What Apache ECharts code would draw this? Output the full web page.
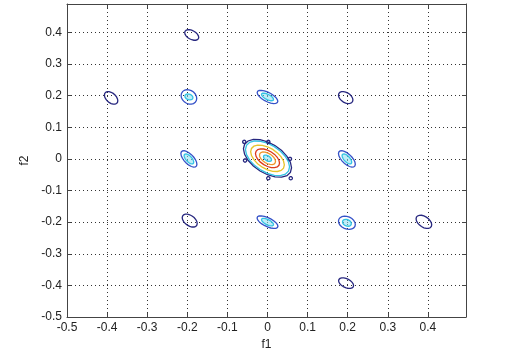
<!DOCTYPE html>
<html>
<head>
<meta charset="utf-8">
<script src="https://cdn.jsdelivr.net/npm/echarts@6/dist/echarts.min.js"></script>
<style>
html,body{margin:0;padding:0;background:#fff;}
#chart{width:514px;height:359px;}
</style>
</head>
<body>
<div id="chart"></div>
<script>
// Axis tick labels
var xTicks = [-0.5, -0.4, -0.3, -0.2, -0.1, 0, 0.1, 0.2, 0.3, 0.4];
var yTicks = [-0.5, -0.4, -0.3, -0.2, -0.1, 0, 0.1, 0.2, 0.3, 0.4];

// Contour rings: centre (f1, f2), half extents in f1 / f2, tilt (correlation), contour level
var ringF1 = [-0.189, -0.390, -0.196, -0.196, -0.196, -0.196, 0.000, 0.000, 0.195, 0.198, 0.198, -0.194, 0.000, 0.000, 0.198, 0.198, 0.390, 0.196,
              0.000, 0.000, 0.000, 0.000, 0.000, 0.000,
              -0.058, 0.002, -0.056, 0.056, 0.002, 0.058];
var ringF2 = [0.392, 0.193, 0.196, 0.196, 0.000, 0.000, 0.196, 0.196, 0.194, 0.000, 0.000, -0.195, -0.200, -0.200, -0.202, -0.202, -0.199, -0.393,
              0.002, 0.002, 0.002, 0.002, 0.002, 0.002,
              0.054, 0.054, -0.005, 0.000, -0.061, -0.061];
var ringHalfF1 = [0.0175, 0.0167, 0.0195, 0.0100, 0.0200, 0.0120, 0.0257, 0.0150, 0.0180, 0.0210, 0.0120, 0.0187, 0.0260, 0.0150, 0.0210, 0.0110, 0.0195, 0.0187,
                  0.0600, 0.0550, 0.0420, 0.0300, 0.0200, 0.0100,
                  0.0040, 0.0040, 0.0040, 0.0040, 0.0040, 0.0040];
var ringHalfF2 = [0.0168, 0.0200, 0.0230, 0.0095, 0.0260, 0.0160, 0.0210, 0.0120, 0.0190, 0.0260, 0.0160, 0.0206, 0.0200, 0.0120, 0.0210, 0.0110, 0.0210, 0.0168,
                  0.0600, 0.0550, 0.0420, 0.0300, 0.0200, 0.0100,
                  0.0050, 0.0050, 0.0050, 0.0050, 0.0050, 0.0050];
var ringTilt = [-0.45, -0.45, -0.2, -0.25, -0.65, -0.65, -0.65, -0.65, -0.4, -0.65, -0.65, -0.45, -0.65, -0.65, -0.25, -0.25, -0.45, -0.45,
                -0.5, -0.5, -0.5, -0.5, -0.5, -0.5,
                0, 0, 0, 0, 0, 0];
var ringLevel = [0, 0, 1, 2, 1, 2, 1, 2, 0, 1, 2, 0, 1, 2, 1, 2, 0, 0,
                 0, 2, 3, 5, 4, 2,
                 0, 0, 0, 0, 0, 0];

var levelColors = ['#27277f', '#3552c8', '#33c3e4', '#e6c42a', '#f0952a', '#dc3a1c'];

var ringData = ringF1.map(function (v, i) {
  return [v, ringF2[i], ringHalfF1[i], ringHalfF2[i], ringTilt[i], ringLevel[i]];
});
// innermost cyan ring of each blob gets a light fill
var innermost = ringData.map(function (d, i) {
  return !ringData.some(function (e, j) {
    return j !== i && Math.abs(e[0] - d[0]) < 1e-6 && Math.abs(e[1] - d[1]) < 1e-6 && e[2] < d[2];
  });
});

var chart = echarts.init(document.getElementById('chart'), null, {renderer: 'canvas'});
var font = 'Liberation Sans, Arial, sans-serif';
var axisCommon = {
  type: 'value', min: -0.5, interval: 0.1,
  axisLine: {show: true, onZero: false, lineStyle: {color: '#444', width: 1}},
  axisTick: {show: true, inside: true, length: 4, lineStyle: {color: '#444'}},
  splitLine: {show: false}
};
var option = {
  animation: false,
  backgroundColor: '#fff',
  grid: {left: 67, top: 4, right: 48, bottom: 42, containLabel: false},
  xAxis: [
    Object.assign({}, axisCommon, {
      max: 0.495, position: 'bottom', name: 'f1', nameLocation: 'middle', nameGap: 16,
      nameTextStyle: {fontFamily: font, fontSize: 12, color: '#222'},
      axisLabel: {show: true, margin: 5, fontFamily: font, fontSize: 12, color: '#222', showMaxLabel: false,
        formatter: function (v) { var k = xTicks.indexOf(Math.round(v * 10) / 10); return k >= 0 ? String(xTicks[k]) : ''; }},
      splitLine: {show: true, lineStyle: {color: '#333', type: [1, 3], width: 1}}
    }),
    Object.assign({}, axisCommon, {max: 0.495, position: 'top', axisLabel: {show: false}})
  ],
  yAxis: [
    Object.assign({}, axisCommon, {
      max: 0.49, position: 'left', name: 'f2', nameLocation: 'middle', nameGap: 27, nameRotate: 90,
      nameTextStyle: {fontFamily: font, fontSize: 12, color: '#222'},
      axisLabel: {show: true, margin: 5, fontFamily: font, fontSize: 12, color: '#222', showMaxLabel: false,
        formatter: function (v) { var k = yTicks.indexOf(Math.round(v * 10) / 10); return k >= 0 ? String(yTicks[k]) : ''; }},
      splitLine: {show: true, lineStyle: {color: '#333', type: [1, 3], width: 1}}
    }),
    Object.assign({}, axisCommon, {max: 0.49, position: 'right', axisLabel: {show: false}})
  ],
  series: [{
    type: 'custom',
    xAxisIndex: 0, yAxisIndex: 0,
    data: ringData,
    clip: true,
    renderItem: function (params, api) {
      var cx = api.value(0), cy = api.value(1), wx = api.value(2), wy = api.value(3), r = api.value(4), lvl = api.value(5);
      var s = Math.sqrt(1 - r * r);
      var pts = [];
      var N = 20;
      for (var i = 0; i < N; i++) {
        var t = 2 * Math.PI * i / N;
        pts.push(api.coord([cx + wx * Math.cos(t), cy + wy * (r * Math.cos(t) + s * Math.sin(t))]));
      }
      var fill = (lvl === 2 && innermost[params.dataIndex]) ? 'rgba(140,222,240,0.55)' : 'none';
      return {type: 'polygon', shape: {points: pts}, style: {fill: fill, stroke: levelColors[lvl], lineWidth: 1.3}};
    }
  }]
};
chart.setOption(option);
</script>
</body>
</html>
